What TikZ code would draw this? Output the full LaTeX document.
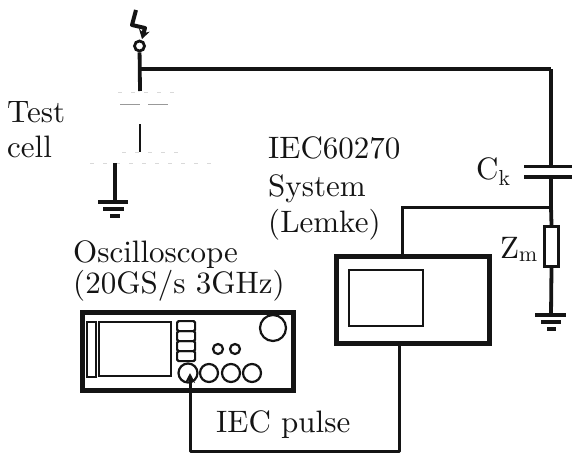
\documentclass[tikz,border=0pt]{standalone}
\usepackage{fontspec}
\setmainfont[Extension=.otf]{lmroman10-regular}
\usepackage{xcolor}
\usetikzlibrary{arrows.meta, positioning, calc}
\definecolor{inkblack}{RGB}{20, 20, 20}
\tikzset{
    every picture/.style={x=1pt, y=-1pt},
    wire/.style={draw=inkblack, line width=3.8pt},
    thinwire/.style={draw=inkblack, line width=3pt},
    label/.style={anchor=base west, inner sep=0pt, text=inkblack, font=\fontsize{31}{38}\selectfont},
    framebox/.style={draw=inkblack, line width=4.6pt, inner sep=0pt, anchor=north west},
    panel/.style={draw=inkblack, line width=2.2pt, inner sep=0pt, anchor=north west},
    knob/.style={circle, draw=inkblack, line width=2.2pt, inner sep=0pt},
    faint/.style={draw=black!15, line width=1pt, dash pattern=on 4pt off 9pt}
}
\begin{document}
\begin{tikzpicture}
    \useasboundingbox (0,0) rectangle (572,455);

    % high voltage feed
    \node[knob, minimum size=10pt, line width=2.8pt] (hv) at (139.5,46) {};
    \draw[inkblack, line width=4pt, line join=round, -{Stealth[length=9pt,width=11pt]}]
        (136,10) -- (132,25) -- (145,28) -- (142,39);
    \coordinate (celltop) at (140,91);
    \coordinate (tee) at (140,69);
    \coordinate (ckwire) at (551,69);
    \draw[wire] (hv) -- (celltop);
    \draw[wire] (tee) -- (ckwire);

    % test cell, almost gone in the print
    \coordinate (stemtop) at (140,124);
    \coordinate (stembot) at (140,152);
    \draw[inkblack, line width=2.2pt] (stemtop) -- (stembot);
    \draw[faint] (118,92) -- (178,92);
    \draw[draw=black!40, line width=1pt, dash pattern=on 20pt off 8pt] (120,104) -- (168,104);
    \draw[faint] (122,152) -- (180,152);
    \draw[faint] (90,163) -- (218,163);
    \coordinate (cellgnd) at (115,163);
    \coordinate (g1) at (115,202);
    \draw[wire] (cellgnd) -- (g1);
    \draw[wire] (98,202) -- (128,202);
    \draw[wire] (103,209) -- (124,209);
    \draw[wire] (110,216) -- (120,216);

    % coupling capacitor and measuring impedance
    \coordinate (ckup) at (551,167);
    \coordinate (cklow) at (551,177);
    \coordinate (tap) at (551,207);
    \draw[wire] (ckwire) -- (ckup);
    \draw[wire] (524,166.5) -- (572,166.5);
    \draw[wire] (524,177) -- (572,177);
    \draw[wire] (cklow) -- (tap);
    \node[draw=inkblack, line width=3pt, minimum width=14pt, minimum height=40pt, inner sep=0pt] (zm) at (551.5,246.5) {};
    \coordinate (g2) at (551,315);
    \draw[wire] (tap) -- (zm.north);
    \draw[wire] (zm.south) -- (g2);
    \draw[wire] (535,315) -- (566,315);
    \draw[wire] (541,322) -- (561,322);
    \draw[wire] (547,329) -- (556,329);

    % measuring system
    \node[framebox, minimum width=153pt, minimum height=87pt] (lemke) at (334,254) {};
    \node[panel, minimum width=74pt, minimum height=56pt] (lemkescreen) at (348,269) {};
    \coordinate (lemkein) at (402,254);
    \coordinate (lemkebend) at (402,207);
    \coordinate (lemkeout) at (399,341);
    \coordinate (pulsebend) at (399,451.5);
    \draw[thinwire] (lemkein) -- (lemkebend) -- (tap);

    % oscilloscope
    \node[framebox, minimum width=211pt, minimum height=78pt] (scope) at (80,310) {};
    \node[panel, minimum width=9pt, minimum height=55pt] (strip) at (86,321) {};
    \node[panel, minimum width=72pt, minimum height=54pt] (screen) at (98,321) {};
    \foreach \i in {0,1,2,3}
        \node[panel, rounded corners=1.5pt, minimum width=18pt, minimum height=10pt] (btn\i) at (176,320+10*\i) {};
    \node[knob, minimum size=26pt] (bigknob) at (273,328) {};
    \node[knob, minimum size=10pt] (small1) at (218,349) {};
    \node[knob, minimum size=10pt] (small2) at (235,349) {};
    \node[knob, minimum size=19pt] (port) at (188,373) {};
    \node[knob, minimum size=18pt] (port1) at (209,373) {};
    \node[knob, minimum size=18pt] (port2) at (231,373) {};
    \node[knob, minimum size=18pt] (port3) at (252,373) {};
    \coordinate (portin) at (190,373);
    \coordinate (portbend) at (190,451.5);
    \draw[thinwire, line join=round, -{Stealth[length=10pt,width=10pt]}]
        (lemkeout) -- (pulsebend) -- (portbend) -- (portin);

    % labels
    \node[label] (testlabel) at (7,122) {Test};
    \node[label] (celllabel) at (7,157) {cell};
    \node[label] (ieclabel) at (268,158) {IEC60270};
    \node[label] (syslabel) at (268,196) {System};
    \node[label] (lemkelabel) at (268,232) {(Lemke)};
    \node[label] (osclabel) at (73,262) {Oscilloscope};
    \node[label] (ratelabel) at (73,293) {(20GS/s 3GHz)};
    \node[label] (pulselabel) at (216,432) {IEC pulse};
    \node[label] (cklabel) at (476,179) {C$_{\mathrm{k}}$};
    \node[label] (zmlabel) at (500,258) {Z$_{\mathrm{m}}$};
\end{tikzpicture}
\end{document}
